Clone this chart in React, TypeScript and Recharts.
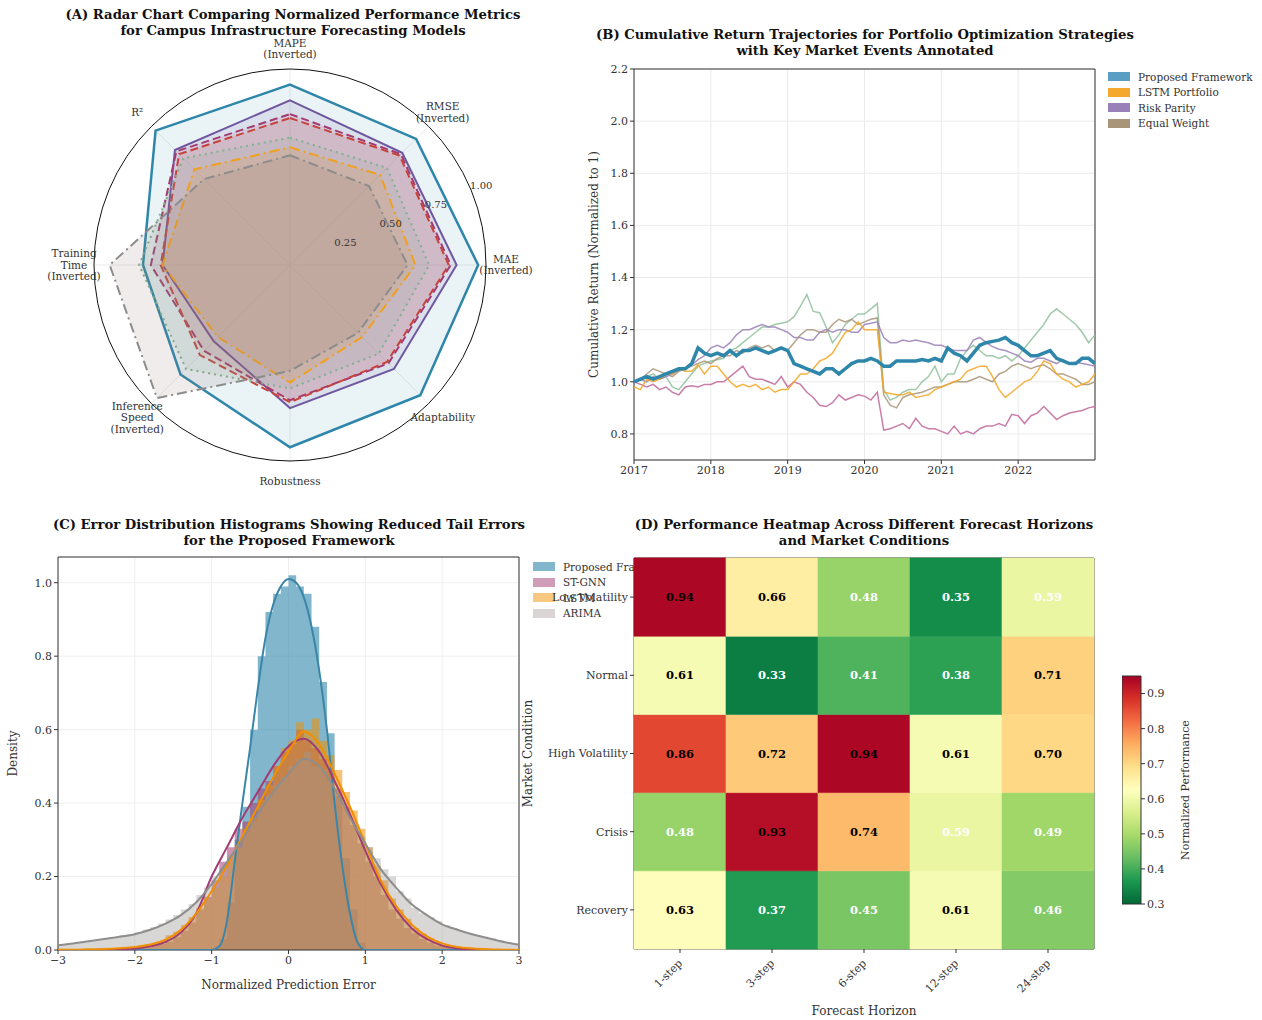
import React from 'react';
import {
  RadarChart, Radar, PolarGrid, PolarAngleAxis, PolarRadiusAxis,
  LineChart, Line, XAxis, YAxis, CartesianGrid, ReferenceArea,
  ComposedChart, Area, BarChart, Bar, Cell, LabelList,
} from 'recharts';

const FONT = '"DejaVu Serif", "Liberation Serif", serif';
const TEXT = '#333333';

// ---------------- Panel A: radar ----------------
const radarMetrics = ['MAPE\n(Inverted)', 'RMSE\n(Inverted)', 'MAE\n(Inverted)', 'Adaptability', 'Robustness', 'Inference\nSpeed\n(Inverted)', 'Training\nTime\n(Inverted)', 'R²'];
const radarTicks = [0.25, 0.5, 0.75, 1.0];
const radarProposed = [0.92, 0.91, 0.96, 0.94, 0.93, 0.79, 0.75, 0.97];
const radarTransformer = [0.84, 0.81, 0.85, 0.75, 0.73, 0.55, 0.65, 0.83];
const radarSTGNN = [0.77, 0.80, 0.82, 0.71, 0.69, 0.62, 0.71, 0.82];
const radarTCN = [0.75, 0.79, 0.81, 0.70, 0.70, 0.65, 0.66, 0.80];
const radarGRU = [0.65, 0.70, 0.71, 0.64, 0.63, 0.75, 0.77, 0.77];
const radarLSTM = [0.60, 0.65, 0.64, 0.52, 0.60, 0.52, 0.65, 0.69];
const radarARIMA = [0.56, 0.57, 0.60, 0.49, 0.54, 0.96, 0.92, 0.62];

const radarSeries = [
  { key: 'proposed', values: radarProposed, color: '#2E86AB', width: 2.5, dash: undefined as string | undefined, fill: '#2E86AB', op: 0.1 },
  { key: 'transformer', values: radarTransformer, color: '#6F57A0', width: 2, dash: undefined, fill: '#6F57A0', op: 0.12 },
  { key: 'stgnn', values: radarSTGNN, color: '#A23B72', width: 2, dash: '8 4', fill: '#A23B72', op: 0.12 },
  { key: 'tcn', values: radarTCN, color: '#C8423C', width: 2, dash: '8 4', fill: '#C8423C', op: 0.12 },
  { key: 'gru', values: radarGRU, color: '#7FB08F', width: 2, dash: '2 4', fill: '#7FB08F', op: 0.12 },
  { key: 'lstm', values: radarLSTM, color: '#F0A020', width: 2, dash: '10 4 2 4', fill: '#F18F01', op: 0.12 },
  { key: 'arima', values: radarARIMA, color: '#8C8C8C', width: 2, dash: '10 4 2 4', fill: '#8B7574', op: 0.14 },
];
const radarData = radarMetrics.map((m, i) => {
  const row: any = { metric: m };
  radarSeries.forEach((s) => { row[s.key] = s.values[i]; });
  return row;
});

const RCX = 290;
const RCY = 265;
const RR = 196;
const RLABEL_ANGLE = 22.5;

const AngleTick = (props: any) => {
  const { x, y, payload, index } = props;
  const a = Math.atan2(y - RCY, x - RCX);
  const r = RR + 20;
  const px = RCX + r * Math.cos(a);
  const py = RCY + r * Math.sin(a);
  const lines = String(payload.value).split('\n');
  const lh = 11.5;
  const y0 = py - ((lines.length - 1) * lh) / 2;
  const ra = (RLABEL_ANGLE * Math.PI) / 180;
  return (
    <g>
      <text textAnchor="middle" fontSize={10.5} fill={TEXT} fontFamily={FONT}>
        {lines.map((l, i) => (
          <tspan key={i} x={px} y={y0 + i * lh} dy="0.35em">{l}</tspan>
        ))}
      </text>
      {index === 0 && radarTicks.map((v) => {
        const rr = v * RR + 11;
        return (
          <text key={v} x={RCX + rr * Math.cos(ra)} y={RCY - rr * Math.sin(ra)} textAnchor="middle" dominantBaseline="central"
            fontSize={10} fill={TEXT} fontFamily={FONT}>
            {v.toFixed(2)}
          </text>
        );
      })}
    </g>
  );
};

const RadarPanel = () => (
  <RadarChart width={580} height={500} cx={RCX} cy={RCY} outerRadius={RR} data={radarData} margin={{ top: 0, right: 0, bottom: 0, left: 0 }}>
    <PolarGrid gridType="circle" polarRadius={[0.5]} radialLines stroke="#ebebeb" />
    {radarSeries.map((s) => (
      <Radar key={s.key} name={s.key} dataKey={s.key} stroke={s.color} strokeWidth={s.width} strokeDasharray={s.dash}
        fill={s.fill} fillOpacity={s.op} dot={false} isAnimationActive={false} />
    ))}
    <PolarGrid gridType="circle" polarRadius={[RR]} radialLines={false} stroke="#111" strokeWidth={1} />
    <PolarRadiusAxis angle={RLABEL_ANGLE} domain={[0, 1]} tickCount={5} axisLine={false} tickLine={false} tick={false} />
    <PolarAngleAxis dataKey="metric" tick={AngleTick} axisLine={false} tickLine={false} />
  </RadarChart>
);

// ---------------- Panel B: cumulative returns ----------------
const retStartYear = 2017;
const retPerYear = 12;
const retProposed = [1.00,1.01,1.02,1.01,1.02,1.03,1.04,1.05,1.05,1.07,1.13,1.11,1.10,1.11,1.10,1.12,1.10,1.12,1.12,1.13,1.12,1.11,1.12,1.13,1.12,1.07,1.06,1.05,1.04,1.03,1.05,1.05,1.03,1.05,1.07,1.08,1.08,1.09,1.08,1.06,1.06,1.08,1.08,1.08,1.08,1.085,1.08,1.09,1.08,1.13,1.11,1.10,1.08,1.11,1.14,1.15,1.155,1.16,1.17,1.15,1.14,1.12,1.10,1.10,1.11,1.12,1.09,1.08,1.07,1.07,1.09,1.09,1.07];
const retLSTM = [0.98,0.97,1.01,1.00,1.01,1.03,1.03,1.05,1.04,1.04,1.065,1.03,1.06,1.06,1.03,1.00,0.98,0.99,0.98,0.99,0.97,0.98,0.96,0.97,0.97,1.00,1.03,1.03,1.05,1.08,1.09,1.11,1.15,1.19,1.20,1.23,1.20,1.20,1.20,0.96,0.955,0.95,0.95,0.96,0.94,0.945,0.95,0.97,0.98,0.99,1.00,1.01,1.04,1.05,1.06,1.06,1.02,0.97,0.94,0.96,0.98,1.00,1.01,1.04,1.08,1.07,1.03,1.01,1.00,0.98,0.99,1.00,1.03];
const retRiskParity = [1.00,1.01,1.00,1.02,1.01,1.02,1.03,1.045,1.05,1.065,1.085,1.10,1.13,1.14,1.13,1.15,1.18,1.20,1.20,1.21,1.22,1.21,1.21,1.20,1.19,1.17,1.17,1.16,1.16,1.19,1.20,1.19,1.20,1.20,1.19,1.19,1.22,1.225,1.23,1.17,1.15,1.15,1.16,1.155,1.16,1.155,1.15,1.14,1.14,1.13,1.12,1.12,1.12,1.16,1.17,1.15,1.135,1.125,1.12,1.11,1.10,1.08,1.075,1.09,1.09,1.08,1.07,1.085,1.07,1.075,1.07,1.065,1.06];
const retEqualWeight = [1.00,1.01,1.03,1.05,1.04,1.03,1.02,1.04,1.05,1.06,1.07,1.08,1.07,1.09,1.10,1.10,1.12,1.11,1.13,1.14,1.13,1.14,1.12,1.13,1.12,1.15,1.18,1.20,1.20,1.19,1.19,1.22,1.24,1.23,1.24,1.22,1.23,1.24,1.245,0.95,0.91,0.90,0.94,0.95,0.955,0.96,0.97,0.98,0.98,0.99,1.00,1.00,1.00,1.01,1.02,1.01,1.00,1.03,1.04,1.06,1.07,1.06,1.05,1.06,1.065,1.05,1.03,1.03,1.02,1.01,0.99,0.99,1.00];
const retMomentum = [1.00,1.01,1.02,1.03,1.01,1.02,0.98,0.97,1.00,1.03,1.06,1.07,1.08,1.085,1.09,1.12,1.13,1.15,1.17,1.19,1.21,1.21,1.22,1.225,1.23,1.25,1.29,1.335,1.27,1.265,1.21,1.15,1.18,1.22,1.24,1.26,1.26,1.28,1.30,0.97,0.93,0.94,0.96,0.97,0.97,1.00,1.02,1.06,1.00,1.03,1.03,1.09,1.12,1.14,1.12,1.10,1.10,1.09,1.10,1.08,1.10,1.13,1.16,1.19,1.22,1.26,1.28,1.26,1.24,1.22,1.19,1.15,1.18];
const retMinVariance = [1.00,0.99,0.98,0.99,0.97,0.98,0.96,0.95,0.98,0.985,0.98,0.99,0.99,1.00,1.00,1.02,1.04,1.06,1.02,1.01,1.01,1.00,0.99,1.02,0.98,1.00,0.99,0.96,0.94,0.91,0.905,0.92,0.95,0.93,0.94,0.95,0.945,0.93,0.96,0.815,0.82,0.83,0.84,0.82,0.86,0.83,0.82,0.82,0.81,0.80,0.83,0.80,0.81,0.80,0.82,0.83,0.83,0.84,0.83,0.875,0.87,0.84,0.87,0.88,0.905,0.88,0.855,0.87,0.88,0.885,0.89,0.90,0.905];
const retYearTicks = [2017, 2018, 2019, 2020, 2021, 2022];
const retYTicks = [0.8, 1.0, 1.2, 1.4, 1.6, 1.8, 2.0, 2.2];

const retData = retProposed.map((_, i) => ({
  t: retStartYear + i / retPerYear,
  proposed: retProposed[i],
  lstm: retLSTM[i],
  riskParity: retRiskParity[i],
  equalWeight: retEqualWeight[i],
  momentum: retMomentum[i],
  minVariance: retMinVariance[i],
}));

const retLegend = [
  { label: 'Proposed Framework', color: '#5B9EC4' },
  { label: 'LSTM Portfolio', color: '#F5A82E' },
  { label: 'Risk Parity', color: '#9A80B8' },
  { label: 'Equal Weight', color: '#A89478' },
];

const tickStyle = { fontFamily: FONT, fontSize: 11, fill: TEXT };

const ReturnPanel = () => (
  <LineChart width={530} height={430} data={retData} margin={{ top: 9, right: 5, bottom: 5, left: 0 }}>
    <CartesianGrid stroke="#ebebeb" />
    <XAxis type="number" dataKey="t" domain={[2017, 2023]} ticks={retYearTicks} allowDataOverflow
      tick={tickStyle} tickLine={{ stroke: '#333' }} tickSize={4} axisLine={false} height={25} tickFormatter={(v: number) => String(Math.round(v))} />
    <YAxis type="number" domain={[0.7, 2.2]} ticks={retYTicks} allowDataOverflow width={64}
      tick={tickStyle} tickLine={{ stroke: '#333' }} tickSize={4} axisLine={false}
      tickFormatter={(v: number) => v.toFixed(1)}
      label={{ value: 'Cumulative Return (Normalized to 1)', angle: -90, position: 'insideLeft', offset: 24, style: { textAnchor: 'middle', fontFamily: FONT, fontSize: 12, fill: TEXT } }} />
    <Line dataKey="minVariance" stroke="#C0679A" strokeWidth={1.5} strokeOpacity={0.85} dot={false} isAnimationActive={false} />
    <Line dataKey="momentum" stroke="#8FC19C" strokeWidth={1.5} strokeOpacity={0.85} dot={false} isAnimationActive={false} />
    <Line dataKey="equalWeight" stroke="#A89478" strokeWidth={1.5} strokeOpacity={0.85} dot={false} isAnimationActive={false} />
    <Line dataKey="riskParity" stroke="#9A80B8" strokeWidth={1.5} strokeOpacity={0.85} dot={false} isAnimationActive={false} />
    <Line dataKey="lstm" stroke="#F5A623" strokeWidth={1.5} strokeOpacity={0.85} dot={false} isAnimationActive={false} />
    <Line dataKey="proposed" stroke="#2E86AB" strokeWidth={3.5} dot={false} isAnimationActive={false} />
    <ReferenceArea y1={0.7} y2={2.2} fill="none" stroke="#333" strokeWidth={1} />
  </LineChart>
);

// ---------------- Panel C: error histograms ----------------
const errBinStart = -3;
const errBinWidth = 0.1;
const histProposed = [0,0,0,0,0,0,0,0,0,0, 0,0,0,0,0,0,0,0,0,0, 0,0.03,0.13,0.3,0.39,0.6,0.8,0.92,0.97,0.99, 1.02,0.99,0.97,0.88,0.73,0.59,0.42,0.25,0.11,0.02, 0,0,0,0,0,0,0,0,0,0, 0,0,0,0,0,0,0,0,0,0];
const histSTGNN = [0,0,0,0,0,0,0,0.003,0.002,0.004, 0.004,0.006,0.011,0.016,0.022,0.035,0.052,0.075,0.11,0.145, 0.19,0.24,0.28,0.33,0.35,0.4,0.44,0.46,0.5,0.54, 0.56,0.6,0.57,0.55,0.52,0.49,0.44,0.39,0.34,0.29, 0.24,0.2,0.15,0.11,0.085,0.06,0.045,0.03,0.02,0.012, 0.008,0.005,0.003,0.002,0.001,0,0,0,0,0];
const histLSTM = [0.001,0.001,0.002,0.002,0.003,0.003,0.004,0.005,0.006,0.007, 0.009,0.012,0.017,0.022,0.04,0.05,0.068,0.09,0.115,0.14, 0.17,0.2,0.25,0.28,0.33,0.36,0.41,0.45,0.5,0.55, 0.57,0.62,0.6,0.63,0.57,0.53,0.49,0.43,0.38,0.33, 0.28,0.23,0.19,0.14,0.11,0.085,0.06,0.045,0.032,0.022, 0.015,0.011,0.008,0.005,0.004,0.003,0.002,0.002,0.001,0.001];
const histARIMA = [0.015,0.017,0.02,0.022,0.026,0.029,0.033,0.035,0.04,0.043, 0.048,0.056,0.062,0.072,0.083,0.095,0.11,0.125,0.15,0.17, 0.2,0.225,0.26,0.29,0.32,0.35,0.39,0.42,0.45,0.47, 0.5,0.52,0.54,0.5,0.49,0.46,0.42,0.38,0.35,0.31, 0.28,0.25,0.22,0.2,0.16,0.14,0.115,0.1,0.09,0.078, 0.068,0.06,0.052,0.046,0.04,0.036,0.032,0.027,0.022,0.018];
// KDE curves: Proposed sampled every 0.1 on [-1, 1]; others every 0.2 on [-3, 3]
const kdeProposed = [0,0.01,0.08,0.24,0.4,0.55,0.71,0.85,0.94,0.99,1.01,1.0,0.96,0.88,0.76,0.6,0.4,0.23,0.1,0.02,0];
const kdeSTGNN = [0,0,0,0.001,0.002,0.004,0.01,0.022,0.048,0.1,0.2,0.28,0.36,0.43,0.5,0.555,0.575,0.54,0.46,0.37,0.27,0.18,0.11,0.06,0.03,0.012,0.004,0.001,0,0,0];
const kdeLSTM = [0.001,0.001,0.002,0.003,0.005,0.008,0.015,0.028,0.055,0.1,0.16,0.23,0.31,0.39,0.47,0.54,0.595,0.56,0.48,0.39,0.29,0.19,0.12,0.07,0.037,0.018,0.008,0.004,0.002,0.001,0];
const kdeARIMA = [0.013,0.018,0.024,0.03,0.036,0.043,0.055,0.072,0.095,0.13,0.18,0.24,0.3,0.37,0.43,0.48,0.52,0.5,0.44,0.36,0.29,0.22,0.17,0.125,0.095,0.07,0.055,0.042,0.032,0.022,0.014];
const errXTicks = [-3, -2, -1, 0, 1, 2, 3];
const errYTicks = [0, 0.2, 0.4, 0.6, 0.8, 1.0];

const errData = Array.from({ length: histProposed.length + 1 }, (_, i) => {
  const x = Math.round((errBinStart + i * errBinWidth) * 10) / 10;
  const last = i === histProposed.length;
  const pIdx = i - 20;
  return {
    x,
    hP: last ? 0 : histProposed[i],
    hS: last ? 0 : histSTGNN[i],
    hL: last ? 0 : histLSTM[i],
    hA: last ? 0 : histARIMA[i],
    kP: pIdx >= 0 && pIdx < kdeProposed.length ? kdeProposed[pIdx] : (i === 0 || last ? 0 : null),
    kS: i % 2 === 0 ? kdeSTGNN[i / 2] : null,
    kL: i % 2 === 0 ? kdeLSTM[i / 2] : null,
    kA: i % 2 === 0 ? kdeARIMA[i / 2] : null,
  };
});

const errLegend = [
  { label: 'Proposed Framework', color: '#82B6CD' },
  { label: 'ST-GNN', color: '#D09DB8' },
  { label: 'LSTM', color: '#F8C780' },
  { label: 'ARIMA', color: '#DAD4D4' },
];

const fmtMinus = (v: number) => (v < 0 ? '\u2212' + Math.abs(v) : String(v));

const ErrorPanel = () => (
  <ComposedChart width={525} height={475} data={errData} margin={{ top: 12, right: 6, bottom: 25, left: 0 }}>
    <CartesianGrid stroke="#efefef" />
    <XAxis type="number" dataKey="x" domain={[-3, 3]} ticks={errXTicks} allowDataOverflow height={45}
      tick={tickStyle} tickLine={{ stroke: '#333' }} tickSize={4} axisLine={false} tickFormatter={fmtMinus}
      label={{ value: 'Normalized Prediction Error', position: 'insideBottom', offset: 6, style: { fontFamily: FONT, fontSize: 12, fill: TEXT } }} />
    <YAxis type="number" domain={[0, 1.07]} ticks={errYTicks} allowDataOverflow width={58}
      tick={tickStyle} tickLine={{ stroke: '#333' }} tickSize={4} axisLine={false} tickFormatter={(v: number) => v.toFixed(1)}
      label={{ value: 'Density', angle: -90, position: 'insideLeft', offset: 13, style: { textAnchor: 'middle', fontFamily: FONT, fontSize: 12, fill: TEXT } }} />
    <Area type="stepAfter" dataKey="hP" stroke="none" fill="#2E86AB" fillOpacity={0.6} isAnimationActive={false} />
    <Area type="stepAfter" dataKey="hS" stroke="none" fill="#A23B72" fillOpacity={0.55} isAnimationActive={false} />
    <Area type="stepAfter" dataKey="hL" stroke="none" fill="#F18F01" fillOpacity={0.55} isAnimationActive={false} />
    <Area type="stepAfter" dataKey="hA" stroke="none" fill="#A09898" fillOpacity={0.4} isAnimationActive={false} />
    <Line type="monotone" dataKey="kP" stroke="#3A86A8" strokeWidth={2} dot={false} connectNulls isAnimationActive={false} />
    <Line type="monotone" dataKey="kS" stroke="#A23B72" strokeWidth={2} dot={false} connectNulls isAnimationActive={false} />
    <Line type="monotone" dataKey="kL" stroke="#F18F01" strokeWidth={2} dot={false} connectNulls isAnimationActive={false} />
    <Line type="monotone" dataKey="kA" stroke="#8E8E8E" strokeWidth={2} dot={false} connectNulls isAnimationActive={false} />
    <ReferenceArea y1={0} y2={1.07} fill="none" stroke="#333" strokeWidth={1} />
  </ComposedChart>
);

// ---------------- Panel D: heatmap ----------------
const heatRows = ['Low Volatility', 'Normal', 'High Volatility', 'Crisis', 'Recovery'];
const heatCols = ['1-step', '3-step', '6-step', '12-step', '24-step'];
const heatLowVol = [0.94, 0.66, 0.48, 0.35, 0.59];
const heatNormal = [0.61, 0.33, 0.41, 0.38, 0.71];
const heatHighVol = [0.86, 0.72, 0.94, 0.61, 0.70];
const heatCrisis = [0.48, 0.93, 0.74, 0.59, 0.49];
const heatRecovery = [0.63, 0.37, 0.45, 0.61, 0.46];
const heatValues = [heatLowVol, heatNormal, heatHighVol, heatCrisis, heatRecovery];
const heatVmin = 0.3;
const heatVmax = 0.95;
const cbTicks = [0.3, 0.4, 0.5, 0.6, 0.7, 0.8, 0.9];

const RdYlGn = ['#a50026', '#d73027', '#f46d43', '#fdae61', '#fee08b', '#ffffbf', '#d9ef8b', '#a6d96a', '#66bd63', '#1a9850', '#006837'];
const RdYlGnR = [...RdYlGn].reverse();
const hexToRgb = (h: string) => [parseInt(h.slice(1, 3), 16), parseInt(h.slice(3, 5), 16), parseInt(h.slice(5, 7), 16)];
const cmap = (v: number) => {
  let t = (v - heatVmin) / (heatVmax - heatVmin);
  t = Math.max(0, Math.min(1, t));
  const p = t * (RdYlGnR.length - 1);
  const i = Math.min(Math.floor(p), RdYlGnR.length - 2);
  const f = p - i;
  const a = hexToRgb(RdYlGnR[i]);
  const b = hexToRgb(RdYlGnR[i + 1]);
  const c = a.map((x, k) => Math.round(x + (b[k] - x) * f));
  return `rgb(${c[0]},${c[1]},${c[2]})`;
};

const heatData = heatCols.map((h, ci) => {
  const row: any = { horizon: h };
  heatRows.forEach((_, ri) => {
    row['s' + ri] = 1;
    row['v' + ri] = heatValues[ri][ci];
  });
  return row;
});

const HeatLabel = (props: any) => {
  const { x, y, width, height, value } = props;
  const v = Number(value);
  return (
    <text x={x + width / 2} y={y + height / 2} textAnchor="middle" dominantBaseline="central" fontSize={11.5}
      fontWeight="bold" fontFamily={FONT} fill={v < 0.6 ? '#ffffff' : '#000000'}>
      {v.toFixed(2)}
    </text>
  );
};

const HorizonTick = (props: any) => {
  const { x, y, payload } = props;
  const ax = x + 3;
  const ay = y + 9;
  return (
    <text x={ax} y={ay} transform={`rotate(-45, ${ax}, ${ay})`} textAnchor="end" fontSize={11} fill={TEXT} fontFamily={FONT}>
      {payload.value}
    </text>
  );
};

const HeatPanel = () => (
  <BarChart width={580} height={475} data={heatData} margin={{ top: 13, right: 6, bottom: 0, left: 0 }} barCategoryGap={0} barGap={0}>
    <XAxis dataKey="horizon" height={71} tick={HorizonTick} tickLine={{ stroke: '#333' }} tickSize={4} axisLine={false}
      label={{ value: 'Forecast Horizon', position: 'insideBottom', offset: 5, style: { fontFamily: FONT, fontSize: 12, fill: TEXT } }} />
    <YAxis type="number" domain={[0, 5]} ticks={[0.5, 1.5, 2.5, 3.5, 4.5]} width={114}
      tick={tickStyle} tickLine={{ stroke: '#333' }} tickSize={4} axisLine={false}
      tickFormatter={(v: number) => heatRows[4 - Math.floor(v)]}
      label={{ value: 'Market Condition', angle: -90, position: 'insideLeft', offset: 8, style: { textAnchor: 'middle', fontFamily: FONT, fontSize: 12, fill: TEXT } }} />
    {[4, 3, 2, 1, 0].map((ri) => (
      <Bar key={ri} dataKey={'s' + ri} stackId="heat" isAnimationActive={false}>
        {heatCols.map((_, ci) => (
          <Cell key={ci} fill={cmap(heatValues[ri][ci])} stroke={cmap(heatValues[ri][ci])} strokeWidth={0.6} />
        ))}
        <LabelList dataKey={'v' + ri} content={HeatLabel} />
      </Bar>
    ))}
    <ReferenceArea y1={0} y2={5} fill="none" stroke="#333" strokeWidth={1} />
  </BarChart>
);

const cbData = [{ x: 0 }, { x: 1 }];
const ColorbarPanel = () => (
  <ComposedChart width={100} height={250} data={cbData} margin={{ top: 10, right: 21, bottom: 12, left: 0 }}>
    <defs>
      <linearGradient id="cbGrad" x1="0" y1="0" x2="0" y2="1">
        {RdYlGn.map((c, i) => (
          <stop key={i} offset={`${(i / (RdYlGn.length - 1)) * 100}%`} stopColor={c} />
        ))}
      </linearGradient>
    </defs>
    <XAxis type="number" dataKey="x" domain={[0, 1]} hide />
    <YAxis type="number" orientation="right" domain={[heatVmin, heatVmax]} ticks={cbTicks} allowDataOverflow width={60}
      tick={tickStyle} tickLine={{ stroke: '#333' }} tickSize={4} axisLine={false} tickFormatter={(v: number) => v.toFixed(1)}
      label={{ value: 'Normalized Performance', angle: -90, position: 'insideRight', offset: 16, style: { textAnchor: 'middle', fontFamily: FONT, fontSize: 11, fill: TEXT } }} />
    <ReferenceArea x1={0} x2={1} y1={heatVmin} y2={heatVmax} fill="url(#cbGrad)" fillOpacity={1} stroke="#333" strokeWidth={1} />
  </ComposedChart>
);

// ---------------- layout helpers ----------------
const Title = ({ cx, top, lines }: { cx: number; top: number; lines: string[] }) => (
  <div style={{ position: 'absolute', left: cx - 350, width: 700, top, textAlign: 'center', fontWeight: 'bold', fontSize: 13.2, lineHeight: '16px', fontFamily: FONT, color: '#111' }}>
    {lines.map((l) => <div key={l}>{l}</div>)}
  </div>
);

const LegendBox = ({ left, top, items, rowH }: { left: number; top: number; items: { label: string; color: string }[]; rowH: number }) => (
  <div style={{ position: 'absolute', left, top, fontFamily: FONT, fontSize: 10.5, color: TEXT }}>
    {items.map((it) => (
      <div key={it.label} style={{ display: 'flex', alignItems: 'center', height: rowH, whiteSpace: 'nowrap' }}>
        <div style={{ width: 22, height: 9, background: it.color, marginRight: 8 }} />
        <span>{it.label}</span>
      </div>
    ))}
  </div>
);

export default function App() {
  return (
    <div style={{ position: 'absolute', left: 0, top: 0, width: 1262, height: 1020, background: '#ffffff', overflow: 'hidden' }}>
      <div style={{ position: 'absolute', left: 0, top: 0 }}><RadarPanel /></div>
      <div style={{ position: 'absolute', left: 570, top: 60 }}><ReturnPanel /></div>
      <LegendBox left={1108} top={69} items={retLegend} rowH={15.5} />
      <div style={{ position: 'absolute', left: 0, top: 545 }}><ErrorPanel /></div>
      <LegendBox left={533} top={559} items={errLegend} rowH={15.5} />
      <div style={{ position: 'absolute', left: 520, top: 545 }}><HeatPanel /></div>
      <div style={{ position: 'absolute', left: 1122, top: 666 }}><ColorbarPanel /></div>
      <Title cx={293} top={7} lines={['(A) Radar Chart Comparing Normalized Performance Metrics', 'for Campus Infrastructure Forecasting Models']} />
      <Title cx={865} top={27} lines={['(B) Cumulative Return Trajectories for Portfolio Optimization Strategies', 'with Key Market Events Annotated']} />
      <Title cx={289} top={517} lines={['(C) Error Distribution Histograms Showing Reduced Tail Errors', 'for the Proposed Framework']} />
      <Title cx={864} top={517} lines={['(D) Performance Heatmap Across Different Forecast Horizons', 'and Market Conditions']} />
    </div>
  );
}
